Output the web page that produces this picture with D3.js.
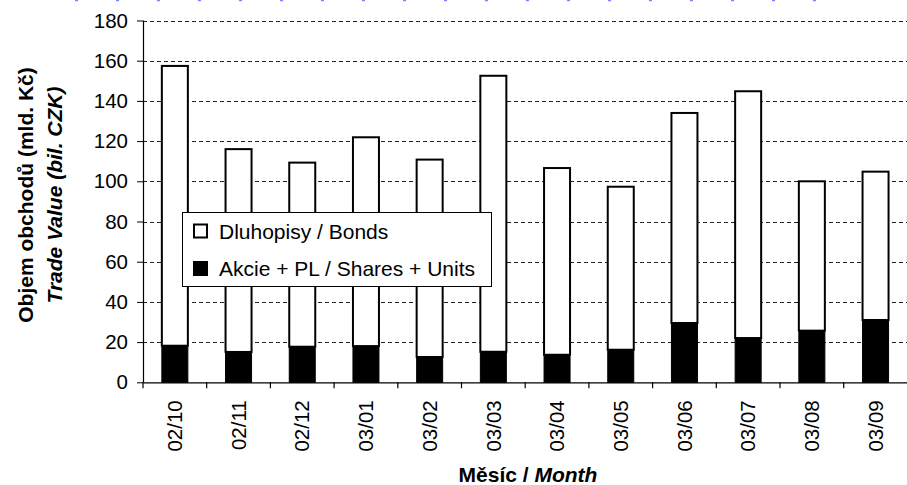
<!DOCTYPE html>
<html><head><meta charset="utf-8">
<script src="https://cdn.jsdelivr.net/npm/d3@7"></script>
<style>
html,body{margin:0;padding:0;background:#fff;}
svg{display:block;font-family:"Liberation Sans",Arial,sans-serif;}
</style></head>
<body><svg id="c" width="907" height="485"></svg>
<script>
const months = ["02/10","02/11","02/12","03/01","03/02","03/03","03/04","03/05","03/06","03/07","03/08","03/09"];
const shares = [18.2,15.1,17.7,18.0,12.6,15.2,13.7,16.2,29.5,22.0,25.7,31.0];
const bonds  = [139.2,100.9,91.6,103.9,98.2,137.3,92.9,81.1,104.5,122.8,74.3,73.8];
const yTicks = [0,20,40,60,80,100,120,140,160,180];
const legendLabels = ["Dluhopisy / Bonds","Akcie + PL / Shares + Units"];

const svg = d3.select("#c");
const pL = 143, pR = 907.4, pT = 20.5, pB = 382.3;
const x = d3.scaleBand().domain(months).range([pL, pR]).padding(0);
const y = d3.scaleLinear().domain([0,180]).range([pB, pT]);
const barW = 26;

// faint blue dotted artifact at very top
svg.append("line").attr("x1",75).attr("x2",830).attr("y1",0.5).attr("y2",0.5)
  .attr("stroke","#7f7fff").attr("stroke-width",1.5).attr("stroke-dasharray","3,38");

// gridlines
svg.append("g").selectAll("line").data(yTicks.filter(d=>d>0)).join("line")
  .attr("x1",pL).attr("x2",pR)
  .attr("y1",d=>Math.round(y(d))+0.5).attr("y2",d=>Math.round(y(d))+0.5)
  .attr("stroke","#222").attr("stroke-width",1).attr("stroke-dasharray","4,3");

const data = months.map((m,i)=>({m, s:shares[i], b:bonds[i]}));
const bars = svg.append("g");
bars.selectAll("rect.b").data(data).join("rect").attr("class","b")
  .attr("x",d=>x(d.m)+x.bandwidth()/2-barW/2)
  .attr("width",barW)
  .attr("y",d=>y(d.s+d.b))
  .attr("height",d=>y(d.s)-y(d.s+d.b))
  .attr("fill","#fff").attr("stroke","#000").attr("stroke-width",2);
bars.selectAll("rect.s").data(data).join("rect").attr("class","s")
  .attr("x",d=>x(d.m)+x.bandwidth()/2-barW/2)
  .attr("width",barW)
  .attr("y",d=>y(d.s))
  .attr("height",d=>y(0)-y(d.s))
  .attr("fill","#000").attr("stroke","#000").attr("stroke-width",1);

// y axis
const yAxis = svg.append("g").attr("transform",`translate(${pL},0)`)
  .call(d3.axisLeft(y).tickValues(yTicks).tickSize(6).tickPadding(9));
yAxis.select(".domain").attr("stroke","#000").attr("stroke-width",1.2).attr("d",`M0.5,${pT}V${pB}`);
yAxis.selectAll(".tick line").attr("stroke","#000");
yAxis.selectAll(".tick text").attr("font-size","20.5px").attr("fill","#000")
  .attr("font-family","'Liberation Sans',Arial,sans-serif");

// x axis
const xAxis = svg.append("g").attr("transform",`translate(0,${pB})`)
  .call(d3.axisBottom(x).tickSize(0).tickPadding(0));
xAxis.select(".domain").attr("stroke","#000").attr("stroke-width",1.2).attr("d",`M${pL},0.5H${pR}`);
xAxis.selectAll(".tick text")
  .attr("font-size","20.5px").attr("fill","#000")
  .attr("font-family","'Liberation Sans',Arial,sans-serif")
  .attr("text-anchor","end").attr("dy","0.35em")
  .attr("transform","translate(0,18) rotate(-90)").attr("x",0).attr("y",0);
xAxis.append("g").selectAll("line").data(months).join("line")
  .attr("x1",d=>x(d)).attr("x2",d=>x(d)).attr("y1",0).attr("y2",6)
  .attr("stroke","#000").attr("stroke-width",1.2);

// axis titles
const xt = svg.append("text").attr("x",528).attr("y",482)
  .attr("text-anchor","middle").attr("font-size","21px").attr("font-weight","bold");
xt.append("tspan").text("Měsíc / ");
xt.append("tspan").attr("font-style","italic").text("Month");

svg.append("text").attr("transform","translate(33,195) rotate(-90)")
  .attr("text-anchor","middle").attr("font-size","21px").attr("font-weight","bold")
  .text("Objem obchodů (mld. Kč)");
const yt2 = svg.append("text").attr("transform","translate(61.5,195) rotate(-90)")
  .attr("text-anchor","middle").attr("font-size","21px").attr("font-weight","bold")
  .attr("font-style","italic");
yt2.append("tspan").text("Trade Value");
yt2.append("tspan").text(" (bil. CZK)");

// legend
const lg = svg.append("g");
lg.append("rect").attr("x",182.5).attr("y",212.5).attr("width",309).attr("height",74)
  .attr("fill","#fff").attr("stroke","#000").attr("stroke-width",1);
const fills = ["#fff","#000"];
legendLabels.forEach((t,i)=>{
  const cy = 231 + i*37.5;
  lg.append("rect").attr("x",194).attr("y",cy-6.5).attr("width",13).attr("height",13)
    .attr("fill",fills[i]).attr("stroke","#000").attr("stroke-width",2);
  lg.append("text").attr("x",219).attr("y",cy).attr("dy","0.36em")
    .attr("font-size","21px").text(t);
});
</script></body></html>
